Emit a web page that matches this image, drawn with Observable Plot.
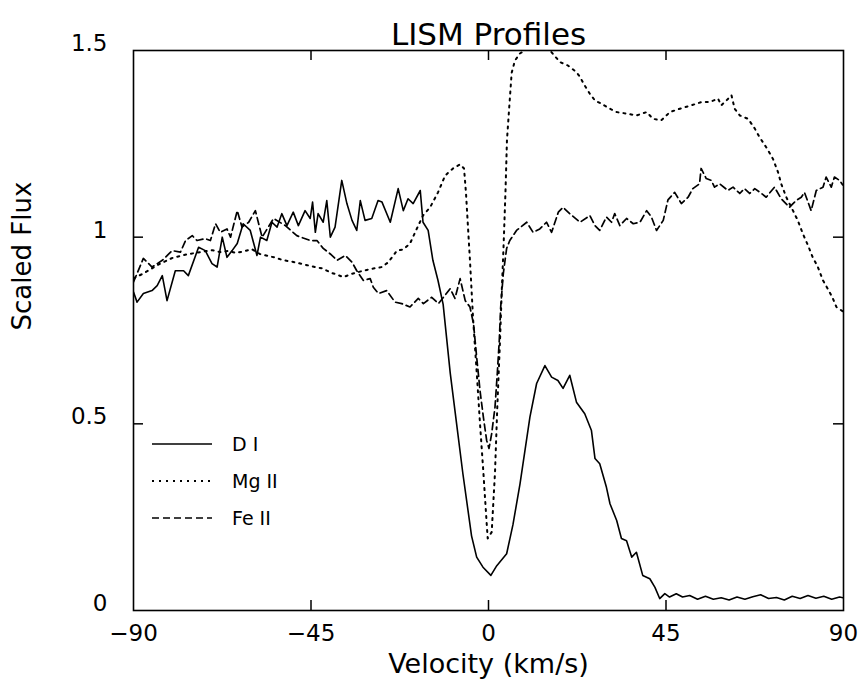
<!DOCTYPE html>
<html><head><meta charset="utf-8">
<script src="https://cdn.jsdelivr.net/npm/d3@7"></script>
<script src="https://cdn.jsdelivr.net/npm/@observablehq/plot@0.6"></script>
<style>body{margin:0;background:#fff} #chart{position:relative;width:859px;height:689px}</style>
</head><body><div id="chart"></div>
<script>
const title = "LISM Profiles";
const xLabel = "Velocity (km/s)";
const yLabel = "Scaled Flux";
const xTicks = [-90, -45, 0, 45, 90];
const yTicks = [0, 0.5, 1, 1.5];
const seriesNames = ["D I", "Mg II", "Fe II"];

// [velocity km/s, scaled flux]
const dI = [[-90,0.853],[-89.1,0.826],[-87.5,0.849],[-85.3,0.857],[-84.0,0.87],[-82.7,0.897],[-81.5,0.830],[-79.4,0.91],[-77.3,0.91],[-76.1,0.897],[-73.5,0.973],[-71.8,0.964],[-70.1,0.929],[-68.8,0.92],[-67.5,1.0],[-66.3,0.946],[-65.0,0.964],[-63.7,0.983],[-62.2,1.036],[-60.4,1.018],[-58.7,0.951],[-57.8,1.0],[-56.2,0.991],[-54.9,1.04],[-53.6,1.027],[-52.4,1.063],[-51.1,1.031],[-49.5,1.067],[-48.2,1.031],[-46.5,1.071],[-45.2,1.05],[-44.6,1.094],[-43.9,1.013],[-43.2,1.063],[-41.9,1.04],[-41.0,1.098],[-40.1,1.0],[-38.9,1.027],[-37.2,1.152],[-35.9,1.09],[-34.6,1.045],[-33.4,1.018],[-32.5,1.098],[-31.3,1.045],[-29.6,1.05],[-28.0,1.098],[-27.0,1.094],[-24.9,1.04],[-22.9,1.13],[-21.6,1.071],[-20.4,1.103],[-19.1,1.09],[-17.3,1.125],[-16.6,1.04],[-15.3,1.018],[-14.1,0.938],[-12.8,0.884],[-11.5,0.82],[-9.7,0.636],[-8.1,0.501],[-6.5,0.367],[-4.3,0.2],[-3.0,0.143],[-1.4,0.116],[0.6,0.094],[2.1,0.12],[4.6,0.152],[6.2,0.23],[8.0,0.34],[10.5,0.518],[12.2,0.608],[14.3,0.656],[16.0,0.625],[17.6,0.616],[18.9,0.595],[20.6,0.63],[22.3,0.558],[24.4,0.527],[26.1,0.482],[27.0,0.407],[28.2,0.393],[29.9,0.33],[30.8,0.286],[32.5,0.241],[33.7,0.193],[35.0,0.187],[36.3,0.143],[37.5,0.156],[39.1,0.094],[40.9,0.085],[42.2,0.062],[43.4,0.032],[44.7,0.045],[45.9,0.036],[47.6,0.045],[49.2,0.036],[51,0.04],[53,0.03],[55,0.038],[57,0.03],[59,0.034],[61,0.028],[63,0.036],[65,0.03],[67,0.037],[69,0.042],[71,0.032],[73,0.035],[75,0.028],[77,0.038],[79,0.032],[81,0.04],[83,0.033],[85,0.038],[87,0.03],[89,0.036],[90,0.034]];

const mgII = [[-90,0.89],[-88,0.9],[-86,0.912],[-84,0.925],[-82,0.935],[-80,0.945],[-78,0.95],[-76,0.955],[-74,0.958],[-72,0.962],[-70,0.965],[-68,0.96],[-66,0.963],[-64,0.958],[-62,0.962],[-60,0.968],[-58,0.955],[-56,0.95],[-54,0.945],[-52,0.938],[-50,0.935],[-48,0.93],[-46,0.925],[-44,0.92],[-42,0.916],[-40,0.905],[-38.5,0.9],[-36.8,0.893],[-34.6,0.902],[-31.8,0.91],[-29.2,0.916],[-27,0.92],[-25.4,0.933],[-23.2,0.964],[-21.6,0.967],[-19.9,0.983],[-18.2,1.022],[-16.6,1.058],[-14.8,1.08],[-12.8,1.12],[-11,1.165],[-9,1.184],[-7.2,1.195],[-6.2,1.184],[-5.7,1.117],[-5.2,1.027],[-4.7,0.938],[-3.9,0.78],[-3.0,0.64],[-2.15,0.5],[-1.3,0.37],[-0.46,0.233],[-0.2,0.193],[0.81,0.21],[1.65,0.37],[2.23,0.545],[2.91,0.72],[3.34,0.85],[3.8,0.97],[4.3,1.12],[4.68,1.26],[5.27,1.35],[5.87,1.44],[6.71,1.473],[7.97,1.492],[9.2,1.5],[10.5,1.51],[13,1.51],[15.6,1.5],[18.1,1.469],[20.1,1.46],[22.3,1.442],[23.2,1.429],[24.4,1.406],[25.7,1.384],[27,1.366],[28.7,1.357],[30.8,1.344],[32.5,1.335],[35,1.331],[37.5,1.326],[40.1,1.335],[41.7,1.317],[43.8,1.313],[46,1.335],[48.5,1.344],[51.4,1.353],[54,1.362],[56.1,1.362],[58.2,1.371],[59,1.353],[60.3,1.366],[61.6,1.38],[62.4,1.344],[63.7,1.326],[65.8,1.317],[67.5,1.291],[68.7,1.268],[70.4,1.241],[72.1,1.21],[73.4,1.174],[74.2,1.143],[75.5,1.107],[77.2,1.071],[78.4,1.045],[79.7,1.009],[81,0.978],[82.2,0.946],[83.5,0.92],[84.8,0.884],[86,0.862],[87.3,0.836],[88.2,0.813],[90,0.8]];

const feII = [[-90,0.88],[-87.5,0.943],[-85.3,0.92],[-82.7,0.938],[-80.2,0.964],[-78.1,0.96],[-76.8,0.991],[-75.1,1.004],[-73.9,0.991],[-71.8,0.996],[-70.5,0.991],[-69.2,1.036],[-68.0,1.013],[-66.3,1.022],[-65.4,1.0],[-63.7,1.071],[-62.5,1.027],[-60.8,1.04],[-59.1,1.071],[-57.4,1.0],[-54.5,1.05],[-51.5,1.031],[-48.6,1.004],[-45.2,0.991],[-43.5,0.991],[-41.9,0.97],[-40.1,0.955],[-38.4,0.938],[-36.3,0.951],[-34.6,0.933],[-33.4,0.91],[-31.7,0.884],[-30.0,0.889],[-29.2,0.866],[-27.9,0.849],[-25.8,0.857],[-23.7,0.826],[-22.0,0.822],[-19.9,0.813],[-17.8,0.836],[-16.5,0.822],[-14.4,0.839],[-12.7,0.822],[-9.7,0.862],[-8.5,0.836],[-7.2,0.889],[-5.9,0.83],[-4.7,0.813],[-3.8,0.768],[-3.0,0.679],[-2.15,0.589],[-1.3,0.518],[-0.46,0.455],[0.13,0.434],[0.81,0.474],[1.65,0.545],[2.23,0.635],[2.73,0.723],[3.09,0.813],[3.75,0.902],[4.6,0.97],[5.4,0.991],[7.1,1.018],[9.7,1.04],[11.3,1.013],[13.0,1.022],[14.7,1.04],[16.0,1.013],[17.7,1.067],[18.9,1.08],[20.6,1.063],[23.2,1.04],[25.7,1.058],[27.0,1.031],[28.2,1.018],[29.9,1.054],[31.2,1.04],[32.0,1.063],[33.3,1.031],[35.0,1.05],[36.7,1.036],[38.4,1.04],[40.1,1.071],[41.3,1.054],[42.6,1.018],[44.3,1.045],[45.5,1.1],[47.2,1.12],[48.9,1.09],[50.6,1.107],[51.8,1.13],[53.5,1.143],[53.9,1.184],[55.2,1.157],[56.5,1.152],[57.3,1.134],[58.6,1.143],[60.7,1.125],[62.0,1.134],[63.7,1.117],[64.9,1.13],[66.2,1.117],[67.5,1.13],[69.2,1.117],[70.4,1.107],[72.5,1.134],[74.2,1.103],[76.3,1.08],[77.2,1.09],[78.0,1.098],[79.3,1.107],[80.1,1.12],[81.8,1.071],[83.1,1.125],[84.8,1.134],[85.6,1.161],[86.9,1.134],[87.7,1.161],[89.0,1.152],[89.8,1.14]];

const W = 859, H = 689, mL = 133, mR = 16, mT = 50, mB = 79;
const font = "'DejaVu Sans', sans-serif";
const xDomain = [xTicks[0], xTicks[xTicks.length - 1]];
const yDomain = [yTicks[0], yTicks[yTicks.length - 1]];
const fw = W - mL - mR, fh = H - mT - mB;
const tickLen = 10; // px, inward
const tx = tickLen * (xDomain[1] - xDomain[0]) / fw;
const ty = tickLen * (yDomain[1] - yDomain[0]) / fh;
const fmt = d => d < 0 ? "\u2212" + Math.abs(d) : String(d);
const rows = (arr, name) => arr.map(([v, f]) => ({v, f, name}));
const styles = [
  {stroke: "black", strokeWidth: 1.6},
  {stroke: "black", strokeWidth: 2, strokeDasharray: "2,5"},
  {stroke: "black", strokeWidth: 1.7, strokeDasharray: "7,4"}
];
const innerTicksX = xTicks.slice(1, -1);
const innerTicksY = yTicks.slice(1, -1);

const plot = Plot.plot({
  width: W, height: H,
  marginLeft: mL, marginRight: mR, marginTop: mT, marginBottom: mB,
  style: {fontFamily: font, background: "white", color: "black"},
  x: {domain: xDomain},
  y: {domain: yDomain},
  marks: [
    Plot.axisX({ticks: xTicks, tickSize: 0, tickPadding: 14, tickFormat: fmt, fontSize: 23, label: null}),
    Plot.axisY({ticks: yTicks, tickSize: 0, tickPadding: 26, tickFormat: fmt, fontSize: 23, dy: -7, label: null}),
    Plot.line(rows(dI, seriesNames[0]), {x: "v", y: "f", ...styles[0], clip: true}),
    Plot.line(rows(mgII, seriesNames[1]), {x: "v", y: "f", ...styles[1], clip: true}),
    Plot.line(rows(feII, seriesNames[2]), {x: "v", y: "f", ...styles[2], clip: true}),
    Plot.ruleX(innerTicksX, {x: d => d, y1: yDomain[0], y2: yDomain[0] + ty, stroke: "black", strokeWidth: 1.5}),
    Plot.ruleX(innerTicksX, {x: d => d, y1: yDomain[1] - ty, y2: yDomain[1], stroke: "black", strokeWidth: 1.5}),
    Plot.ruleY(innerTicksY, {y: d => d, x1: xDomain[0], x2: xDomain[0] + tx, stroke: "black", strokeWidth: 1.5}),
    Plot.ruleY(innerTicksY, {y: d => d, x1: xDomain[1] - tx, x2: xDomain[1], stroke: "black", strokeWidth: 1.5}),
    Plot.frame({stroke: "black", strokeWidth: 1.6}),
    Plot.text([title], {frameAnchor: "top", dy: -28, fontSize: 31, fill: "black"}),
    Plot.text([xLabel], {frameAnchor: "bottom", dy: 62, fontSize: 27, fill: "black"}),
    Plot.text([yLabel], {frameAnchor: "left", dx: -111, rotate: -90, fontSize: 26, fill: "black"})
  ]
});
const chart = document.getElementById("chart");
chart.appendChild(plot);

// legend overlay
const leg = d3.select(chart).append("svg")
  .attr("width", W).attr("height", H)
  .style("position", "absolute").style("left", 0).style("top", 0)
  .style("pointer-events", "none");
seriesNames.forEach((name, i) => {
  const y = 444 + i * 37;
  const s = styles[i];
  leg.append("line").attr("x1", 152).attr("x2", 212).attr("y1", y).attr("y2", y)
    .attr("stroke", s.stroke).attr("stroke-width", s.strokeWidth)
    .attr("stroke-dasharray", s.strokeDasharray || null);
  leg.append("text").attr("x", 232).attr("y", y).attr("dy", "0.35em")
    .attr("font-family", font).attr("font-size", 19).text(name);
});
</script>
</body></html>
